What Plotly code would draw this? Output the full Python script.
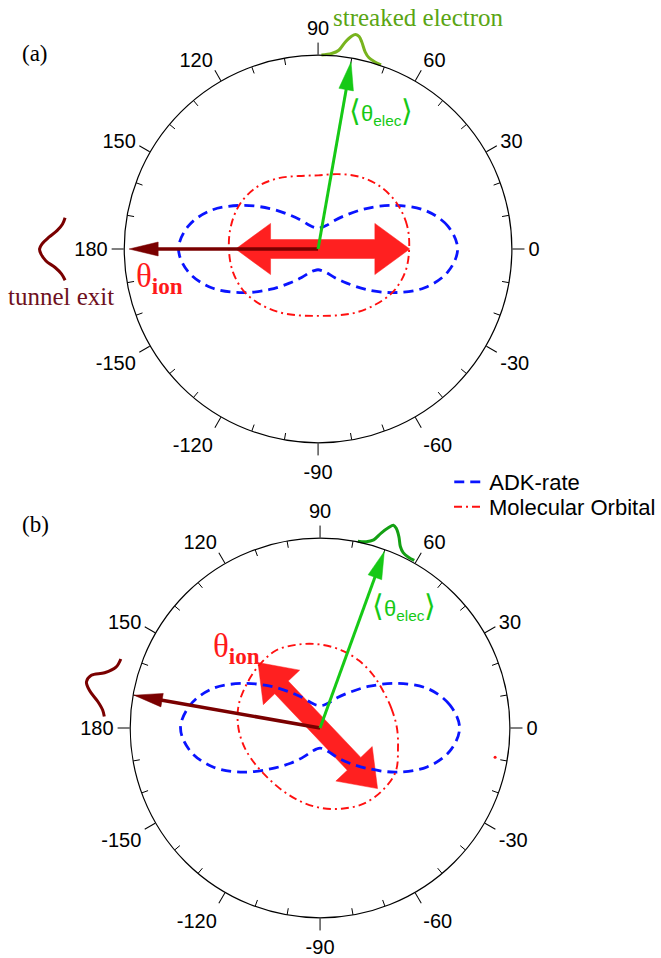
import math
import plotly.graph_objects as go

W, H = 661, 958

# ---------------- data ----------------
panel_centers = [(320, 249), (322, 728)]  # px centers of panels (a), (b)
panel_radii = [195, 191]                   # px radii of panels (a), (b)

tick_angles = [0, 30, 60, 90, 120, 150, 180, 210, 240, 270, 300, 330]
tick_labels = ["0", "30", "60", "90", "120", "150", "180", "-150", "-120", "-90", "-60", "-30"]
minor_tick_angles = [10, 20, 40, 50, 70, 80, 100, 110, 130, 140, 160, 170,
                     190, 200, 220, 230, 250, 260, 280, 290, 310, 320, 340, 350]

adk_theta = [0, 10, 20, 30, 40, 50, 60, 70, 80, 90, 100, 110, 120, 130, 140, 150, 160, 170,
             180, 190, 200, 210, 220, 230, 240, 250, 260, 270, 280, 290, 300, 310, 320, 330, 340, 350, 360]
adk_r_a = [0.72, 0.68, 0.585, 0.45, 0.325, 0.23, 0.17, 0.13, 0.113, 0.107,
           0.113, 0.13, 0.17, 0.23, 0.325, 0.45, 0.585, 0.68,
           0.72, 0.68, 0.585, 0.45, 0.325, 0.23, 0.17, 0.13, 0.113, 0.107,
           0.113, 0.13, 0.17, 0.23, 0.325, 0.45, 0.585, 0.68, 0.72]
adk_r_b = [0.735, 0.695, 0.605, 0.47, 0.343, 0.247, 0.185, 0.143, 0.123, 0.118,
           0.123, 0.143, 0.185, 0.247, 0.343, 0.47, 0.605, 0.695,
           0.735, 0.695, 0.60, 0.465, 0.333, 0.242, 0.177, 0.133, 0.113, 0.106,
           0.113, 0.133, 0.177, 0.242, 0.333, 0.465, 0.60, 0.695, 0.735]

mo_theta = [0, 15, 30, 45, 60, 75, 90, 105, 120, 135, 150, 165, 180,
            195, 210, 225, 240, 255, 270, 285, 300, 315, 330, 345, 360]
mo_r_a = [0.47, 0.475, 0.47, 0.455, 0.43, 0.40, 0.38, 0.39, 0.42, 0.45, 0.465, 0.465, 0.46,
          0.455, 0.44, 0.41, 0.38, 0.355, 0.345, 0.355, 0.38, 0.41, 0.445, 0.465, 0.47]
mo_r_b = [0.405, 0.39, 0.385, 0.395, 0.41, 0.425, 0.44, 0.455, 0.47, 0.46, 0.45, 0.445, 0.43,
          0.41, 0.39, 0.38, 0.385, 0.40, 0.42, 0.44, 0.46, 0.465, 0.46, 0.425, 0.405]

# ion axis (double arrow): angle, forward length, backward length
ion_angle = [0, -46.5]
ion_len_fwd = [0.473, 0.44]
ion_len_back = [0.425, 0.475]

# streaked electron direction and tunnel-exit direction
elec_angle = [80, 70]
elec_len = [0.98, 0.99]
exit_angle = [180, 170]
exit_len = [0.975, 0.995]

# streaked-electron distribution (drawn outside the circle)
elec_dist_theta_a = [89, 86, 84, 82.5, 81, 80, 79, 78, 76.5, 75, 73, 71]
elec_dist_r_a = [0.995, 1.005, 1.025, 1.07, 1.105, 1.117, 1.11, 1.085, 1.04, 1.015, 1.003, 0.998]
elec_dist_theta_b = [78.5, 76, 74, 72.5, 71, 70, 69, 67.5, 66, 64.5, 62.5, 60.5]
elec_dist_r_b = [0.998, 1.005, 1.025, 1.07, 1.11, 1.13, 1.12, 1.085, 1.04, 1.017, 1.008, 1.008]

# tunnel-exit distribution
exit_dist_theta_a = [173, 174.5, 176, 177.5, 179, 180, 181, 182.5, 184, 185.5, 187]
exit_dist_r_a = [1.315, 1.325, 1.35, 1.39, 1.425, 1.437, 1.43, 1.405, 1.36, 1.33, 1.315]
exit_dist_theta_b = [161, 163.5, 165.7, 167.1, 168.9, 170.8, 173.3, 175.3, 177]
exit_dist_r_b = [1.11, 1.121, 1.171, 1.236, 1.254, 1.23, 1.178, 1.149, 1.138]

stray_theta_b = [-9.5]
stray_r_b = [0.935]

# ---------------- styles ----------------
BLUE = "#0a14ff"
RED_LINE = "#ff1010"
RED_ARROW = "#ff2020"
BROWN = "#7a0000"
GREEN = "#16c916"
ELEC_DIST_COLORS = ["#78b41e", "#14a014"]
SANS = "Liberation Sans"
SERIF = "Liberation Serif"


def xy2pol(x, y):
    return math.hypot(x, y), math.degrees(math.atan2(y, x))


def frame_pts(angle, pts):
    ux, uy = math.cos(math.radians(angle)), math.sin(math.radians(angle))
    vx, vy = -uy, ux
    rr, tt = [], []
    for a, p in pts:
        r, t = xy2pol(a * ux + p * vx, a * uy + p * vy)
        rr.append(r)
        tt.append(t)
    return rr, tt


def double_arrow(angle, lf, lb, hl=0.18, hh=0.132, sh=0.049):
    pts = [(lf, 0), (lf - hl, hh), (lf - hl, sh), (-(lb - hl), sh), (-(lb - hl), hh),
           (-lb, 0), (-(lb - hl), -hh), (-(lb - hl), -sh), (lf - hl, -sh), (lf - hl, -hh), (lf, 0)]
    return frame_pts(angle, pts)


def head(angle, length, hl, hw):
    return frame_pts(angle, [(length, 0), (length - hl, hw), (length - hl, -hw), (length, 0)])


fig = go.Figure()
polars = ["polar", "polar2"]
adk_all = [adk_r_a, adk_r_b]
mo_all = [mo_r_a, mo_r_b]

for i, sp in enumerate(polars):
    # minor ticks (inside)
    mr, mt = [], []
    for a in minor_tick_angles:
        mr += [0.964, 1.0, None]
        mt += [a, a, None]
    fig.add_trace(go.Scatterpolar(r=mr, theta=mt, mode="lines", line=dict(color="black", width=1),
                                  subplot=sp, showlegend=False, hoverinfo="skip"))
    # ion double arrow
    rr, tt = double_arrow(ion_angle[i], ion_len_fwd[i], ion_len_back[i])
    fig.add_trace(go.Scatterpolar(r=rr, theta=tt, mode="lines", fill="toself", fillcolor=RED_ARROW,
                                  line=dict(color=RED_ARROW, width=0.5), subplot=sp, showlegend=False,
                                  hoverinfo="skip"))
    # ADK rate
    fig.add_trace(go.Scatterpolar(r=adk_all[i], theta=adk_theta, mode="lines", name="ADK-rate",
                                  line=dict(color=BLUE, width=2.8, dash="10px,6px", shape="spline"),
                                  subplot=sp, showlegend=(i == 0), legend="legend"))
    # Molecular orbital
    fig.add_trace(go.Scatterpolar(r=mo_all[i], theta=mo_theta, mode="lines", name="Molecular Orbital",
                                  line=dict(color=RED_LINE, width=1.9, dash="8px,4px,2px,4px", shape="spline"),
                                  subplot=sp, showlegend=(i == 0), legend="legend2"))
    # tunnel exit arrow
    hl_e = 0.15
    fig.add_trace(go.Scatterpolar(r=[0, exit_len[i] - hl_e * 0.8], theta=[exit_angle[i], exit_angle[i]],
                                  mode="lines", line=dict(color=BROWN, width=3.5), subplot=sp,
                                  showlegend=False, hoverinfo="skip"))
    rr, tt = head(exit_angle[i], exit_len[i], hl_e, 0.036)
    fig.add_trace(go.Scatterpolar(r=rr, theta=tt, mode="lines", fill="toself", fillcolor=BROWN,
                                  line=dict(color=BROWN, width=0.5), subplot=sp, showlegend=False,
                                  hoverinfo="skip"))
    # electron arrow
    hl_g = 0.145
    fig.add_trace(go.Scatterpolar(r=[0, elec_len[i] - hl_g * 0.8], theta=[elec_angle[i], elec_angle[i]],
                                  mode="lines", line=dict(color=GREEN, width=3), subplot=sp,
                                  showlegend=False, hoverinfo="skip"))
    rr, tt = head(elec_angle[i], elec_len[i], hl_g, 0.038)
    fig.add_trace(go.Scatterpolar(r=rr, theta=tt, mode="lines", fill="toself", fillcolor=GREEN,
                                  line=dict(color=GREEN, width=0.5), subplot=sp, showlegend=False,
                                  hoverinfo="skip"))

fig.add_trace(go.Scatterpolar(r=stray_r_b, theta=stray_theta_b, mode="markers",
                              marker=dict(color=RED_LINE, size=3), subplot="polar2",
                              showlegend=False, hoverinfo="skip"))

# distributions outside the circles, on cartesian overlays in radius units
dists = [
    (elec_dist_theta_a, elec_dist_r_a, ELEC_DIST_COLORS[0], "x", "y"),
    (exit_dist_theta_a, exit_dist_r_a, BROWN, "x", "y"),
    (elec_dist_theta_b, elec_dist_r_b, ELEC_DIST_COLORS[1], "x2", "y2"),
    (exit_dist_theta_b, exit_dist_r_b, BROWN, "x2", "y2"),
]
for th, rr, col, xa, ya in dists:
    xs = [r * math.cos(math.radians(t)) for r, t in zip(rr, th)]
    ys = [r * math.sin(math.radians(t)) for r, t in zip(rr, th)]
    fig.add_trace(go.Scatter(x=xs, y=ys, mode="lines", line=dict(color=col, width=3, shape="spline"),
                             xaxis=xa, yaxis=ya, showlegend=False, hoverinfo="skip"))


def polar_layout(cx, cy, R):
    return dict(
        domain=dict(x=[(cx - R) / W, (cx + R) / W], y=[(H - cy - R) / H, (H - cy + R) / H]),
        bgcolor="rgba(0,0,0,0)",
        radialaxis=dict(visible=False, range=[0, 1]),
        angularaxis=dict(
            tickmode="array", tickvals=tick_angles, ticktext=tick_labels,
            ticks="outside", ticklen=12, tickwidth=1, tickcolor="black",
            showgrid=False, showline=True, linecolor="black", linewidth=1.2,
            tickfont=dict(family=SANS, size=20, color="black"),
            rotation=0, direction="counterclockwise",
        ),
    )


def overlay_axes(cx, cy, R):
    xa = dict(domain=[0, 1], range=[-cx / R, (W - cx) / R], visible=False, fixedrange=True)
    ya = dict(domain=[0, 1], range=[-(H - cy) / R, cy / R], visible=False, fixedrange=True)
    return xa, ya


xa1, ya1 = overlay_axes(*panel_centers[0], panel_radii[0])
xa2, ya2 = overlay_axes(*panel_centers[1], panel_radii[1])
ya2["anchor"] = "x2"
xa2["anchor"] = "y2"


def ann(x, y, text, size, color, family, xanchor="left", yanchor="middle"):
    return dict(x=x / W, y=1 - y / H, xref="paper", yref="paper", text=text, showarrow=False,
                xanchor=xanchor, yanchor=yanchor, font=dict(family=family, size=size, color=color))


elec_label = ("<span style='font-size:30px'>⟨</span>θ<sub>elec</sub>"
              "<span style='font-size:30px'>⟩</span>")
annotations = [
    ann(35, 54, "(a)", 23, "black", SERIF, "center"),
    ann(36, 524, "(b)", 23, "black", SERIF, "center"),
    ann(333, 18, "streaked electron", 25, "#5aa514", SERIF),
    ann(6, 296, "tunnel exit", 25, "#6e1020", SERIF),
    ann(135, 278, "θ<sub><b>ion</b></sub>", 33, "#ff1a1a", SERIF),
    ann(212, 648, "θ<sub><b>ion</b></sub>", 33, "#ff1a1a", SERIF),
    ann(349, 112, elec_label, 22, GREEN, SANS),
    ann(372, 606, elec_label, 22, GREEN, SANS),
]

legend_common = dict(xanchor="left", yanchor="top", bgcolor="rgba(0,0,0,0)",
                     font=dict(family=SANS, size=22, color="black"), itemwidth=30)

fig.update_layout(
    width=W, height=H, margin=dict(l=0, r=0, t=0, b=0),
    paper_bgcolor="white", plot_bgcolor="rgba(0,0,0,0)",
    polar=polar_layout(*panel_centers[0], panel_radii[0]),
    polar2=polar_layout(*panel_centers[1], panel_radii[1]),
    xaxis=xa1, yaxis=ya1, xaxis2=xa2, yaxis2=ya2,
    showlegend=True,
    legend=dict(x=452 / W, y=1 - 461 / H, **legend_common),
    legend2=dict(x=452 / W, y=1 - 486 / H, **legend_common),
    annotations=annotations,
)

fig.write_html("out.html", config={"displayModeBar": False},
               post_script="document.body.style.margin='0px';document.body.style.overflow='hidden';")
